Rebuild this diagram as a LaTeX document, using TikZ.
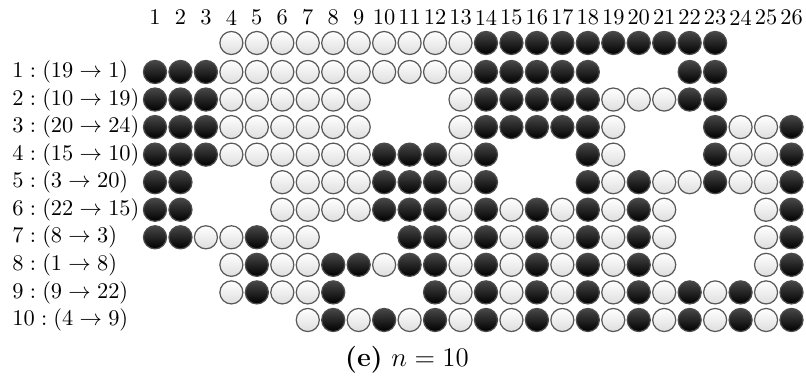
\documentclass[tikz,border=0pt]{standalone}
\newcommand\gridrow[3]{%
  \foreach \v [count=\c] in {#3} {%
    \ifcase\v\or
      \node[wc] (c#1-\c) at ({155+(\c-1)*25.46},#2) {};
    \or
      \node[bc] (c#1-\c) at ({155+(\c-1)*25.46},#2) {};
    \fi
  }%
}
\begin{document}
\begin{tikzpicture}[x=0.4464pt,y=-0.4464pt,
  wc/.style={circle,draw=black!65,line width=0.55pt,top color=white,bottom color=black!13,minimum size=10.3pt,inner sep=0pt},
  bc/.style={circle,draw=black!70,line width=0.55pt,top color=black!72,bottom color=black,minimum size=10.3pt,inner sep=0pt},
  lab/.style={anchor=west,inner sep=0pt},
  hdr/.style={inner sep=0pt}]
\useasboundingbox (0,0) rectangle (806,381);
\foreach \c in {1,...,26} {\node[hdr] (h\c) at ({155+(\c-1)*25.46},17.5) {\c};}
\gridrow{0}{43}{0,0,0,1,1,1,1,1,1,1,1,1,1,2,2,2,2,2,2,2,2,2,2,0,0,0}
\gridrow{1}{72}{2,2,2,1,1,1,1,1,1,1,1,1,1,2,2,2,2,2,0,0,0,2,2,0,0,0}
\gridrow{2}{99.55}{2,2,2,1,1,1,1,1,1,0,0,0,1,2,2,2,2,2,1,1,1,2,2,0,0,0}
\gridrow{3}{127.1}{2,2,2,1,1,1,1,1,1,0,0,0,1,2,2,2,2,2,1,0,0,0,2,1,1,2}
\gridrow{4}{154.65}{2,2,2,1,1,1,1,1,1,2,2,2,1,2,0,0,0,2,1,0,0,0,2,1,1,2}
\gridrow{5}{182.2}{2,2,0,0,0,1,1,1,1,2,2,2,1,2,0,0,0,2,1,2,1,1,2,1,1,2}
\gridrow{6}{209.75}{2,2,0,0,0,1,1,1,1,2,2,2,1,2,1,2,1,2,1,2,1,0,0,0,1,2}
\gridrow{7}{237.3}{2,2,1,1,2,1,1,0,0,0,2,2,1,2,1,2,1,2,1,2,1,0,0,0,1,2}
\gridrow{8}{264.85}{0,0,0,1,2,1,1,2,2,1,2,2,1,2,1,2,1,2,1,2,1,0,0,0,1,2}
\gridrow{9}{292.4}{0,0,0,1,2,1,1,2,0,0,0,2,1,2,1,2,1,2,1,2,1,2,1,2,1,2}
\gridrow{10}{320}{0,0,0,0,0,0,1,2,1,2,1,2,1,2,1,2,1,2,1,2,1,2,1,2,1,2}
\node[lab] (l1) at (12,72) {$1:(19\to1)$};
\node[lab] (l2) at (12,99.55) {$2:(10\to19)$};
\node[lab] (l3) at (12,127.1) {$3:(20\to24)$};
\node[lab] (l4) at (12,154.65) {$4:(15\to10)$};
\node[lab] (l5) at (12,182.2) {$5:(3\to20)$};
\node[lab] (l6) at (12,209.75) {$6:(22\to15)$};
\node[lab] (l7) at (12,237.3) {$7:(8\to3)$};
\node[lab] (l8) at (12,264.85) {$8:(1\to8)$};
\node[lab] (l9) at (12,292.4) {$9:(9\to22)$};
\node[lab] (l10) at (12,320) {$10:(4\to9)$};
\node[inner sep=0pt] (cap) at (407,360) {\large\textbf{(e)} $n=10$};
\end{tikzpicture}
\end{document}
